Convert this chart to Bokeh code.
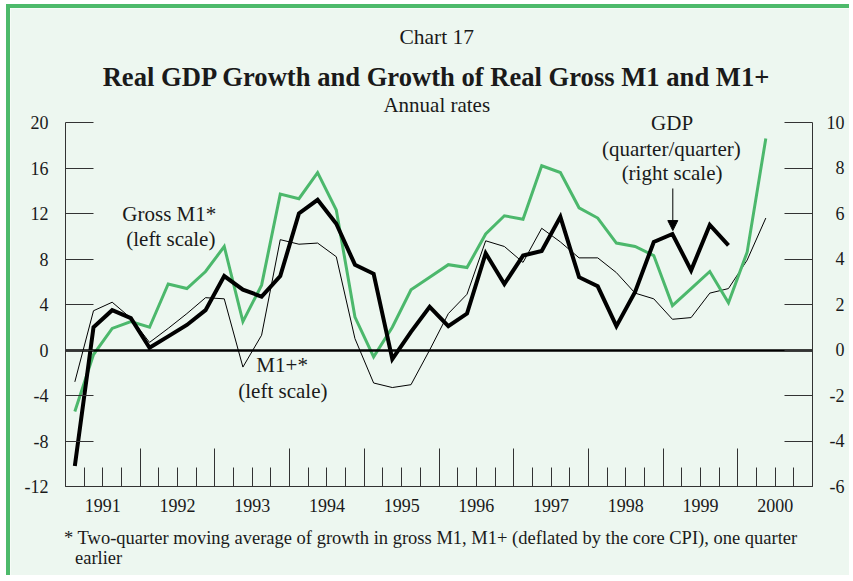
from bokeh.plotting import figure
from bokeh.models import (Range1d, LinearAxis, FixedTicker, Label, Arrow,
                          NormalHead, ColumnDataSource)
from bokeh.embed import file_html
from bokeh.resources import INLINE

# ---------------- data ----------------
years = [1991, 1992, 1993, 1994, 1995, 1996, 1997, 1998, 1999, 2000]
year_labels = ["1991", "1992", "1993", "1994", "1995", "1996", "1997", "1998", "1999", "2000"]
quarters = [f"{y}Q{q}" for y in years for q in (1, 2, 3, 4)]

# Gross M1* (left scale), 1991Q1 .. 2000Q2
gross_m1 = [-5.4, -0.4, 1.9, 2.5, 2.0, 5.8, 5.4, 6.9, 9.1, 2.5,
            5.7, 13.7, 13.3, 15.6, 12.3, 2.9, -0.6, 2.0, 5.3, 6.4,
            7.5, 7.25, 10.2, 11.8, 11.5, 16.2, 15.6, 12.5, 11.6, 9.4,
            9.1, 8.3, 3.9, 5.4, 6.9, 4.15, 8.6, 18.6]
# M1+* (left scale), 1991Q1 .. 2000Q2
m1_plus = [-2.8, 3.45, 4.2, 2.8, 0.67, 1.9, 3.2, 4.6, 4.5, -1.5,
           1.3, 9.7, 9.3, 9.4, 8.2, 1.0, -2.9, -3.3, -3.05, 0.0,
           3.2, 4.9, 9.6, 9.1, 7.7, 10.7, 9.5, 8.1, 8.1, 6.8,
           5.0, 4.5, 2.7, 2.85, 5.0, 5.4, 7.9, 11.6]
# GDP quarter/quarter (right scale), 1991Q1 .. 1999Q4
gdp = [-5.1, 1.0, 1.75, 1.4, 0.1, 0.6, 1.1, 1.75, 3.25, 2.65,
       2.35, 3.25, 6.0, 6.6, 5.55, 3.75, 3.35, -0.4, 0.8, 1.9,
       1.05, 1.6, 4.25, 2.9, 4.15, 4.35, 5.85, 3.2, 2.8, 1.05,
       2.55, 4.75, 5.1, 3.5, 5.5, 4.6]

left_ticks = [-12, -8, -4, 0, 4, 8, 12, 16, 20]
right_ticks = [-6, -4, -2, 0, 2, 4, 6, 8, 10]
LEFT_LO, LEFT_HI = -12, 20
RIGHT_LO, RIGHT_HI = -6, 10
X_LO, X_HI = 1991, 2001

def qpos(label):
    y, q = label.split("Q")
    return int(y) + (int(q) - 0.5) / 4.0

xq = [qpos(q) for q in quarters]

# ---------------- layout (pixels) ----------------
W, H = 843, 571              # canvas
PL, PT = 55, 114             # plot-box offset inside canvas
PW, PH = 747, 364            # plot-box size
ppx = PW / (X_HI - X_LO)
ppy = PH / (LEFT_HI - LEFT_LO)
x_lo = X_LO - PL / ppx
x_hi = X_HI + (W - PL - PW) / ppx
y_hi = LEFT_HI + PT / ppy
y_lo = LEFT_LO - (H - PT - PH) / ppy
r_scale = (RIGHT_HI - RIGHT_LO) / (LEFT_HI - LEFT_LO)

# ---------------- style ----------------
MINT = "#edf7f0"
GREEN = "#4cb86c"
BORDER = "#4dba6b"
INK = "#1a1a1a"
AXIS = "#333333"
FONT = "Liberation Serif"

p = figure(width=W, height=H, x_range=Range1d(x_lo, x_hi), y_range=Range1d(y_lo, y_hi),
           output_backend="svg", toolbar_location=None, title=None,
           min_border=0, min_border_left=0, min_border_right=0,
           min_border_top=0, min_border_bottom=0,
           background_fill_color=MINT, border_fill_color=MINT, outline_line_color=None)
p.extra_y_ranges = {"right": Range1d(y_lo * r_scale, y_hi * r_scale)}
p.xgrid.visible = False
p.ygrid.visible = False
p.styles = {"border-left": f"4px solid {BORDER}", "border-top": f"4px solid {BORDER}",
            "margin-left": "6px", "margin-top": "4px"}

def style_axis(ax):
    ax.axis_line_color = AXIS
    ax.axis_line_width = 1
    ax.major_tick_line_color = AXIS
    ax.minor_tick_line_color = AXIS
    ax.major_tick_out = 0
    ax.minor_tick_out = 0
    ax.major_label_text_font = FONT
    ax.major_label_text_font_size = "18px"
    ax.major_label_text_color = INK

# left axis (plain hyphen minus signs, as in the original)
ax_l = p.left[0]
ax_l.ticker = FixedTicker(ticks=left_ticks)
ax_l.major_label_overrides = {t: str(t) for t in left_ticks}
style_axis(ax_l)
ax_l.fixed_location = X_LO
ax_l.bounds = (LEFT_LO, LEFT_HI)
ax_l.major_tick_in = 28
ax_l.minor_tick_line_color = None
ax_l.major_label_standoff = 17

# right axis: labels padded so that they line up on the right
def pad_right(t):
    s = str(t)
    if len(s) == 1:
        return "\u2007" + s
    if s.startswith("-"):
        return "\u2006" + s
    return s

ax_r = LinearAxis(y_range_name="right", ticker=FixedTicker(ticks=right_ticks))
ax_r.major_label_overrides = {t: pad_right(t) for t in right_ticks}
style_axis(ax_r)
ax_r.fixed_location = X_HI
ax_r.bounds = (RIGHT_LO, RIGHT_HI)
ax_r.major_tick_in = 28
ax_r.minor_tick_line_color = None
ax_r.major_label_standoff = 14
p.add_layout(ax_r, "right")

# bottom axis: year labels centred on each year, short quarter ticks
mid_years = [y + 0.5 for y in years]
quarter_bounds = [y + k / 4.0 for y in years for k in (1, 2, 3)]
ax_b = p.below[0]
ax_b.ticker = FixedTicker(ticks=mid_years, minor_ticks=quarter_bounds)
ax_b.major_label_overrides = {m: lab for m, lab in zip(mid_years, year_labels)}
style_axis(ax_b)
ax_b.fixed_location = LEFT_LO
ax_b.bounds = (X_LO, X_HI)
ax_b.major_tick_line_color = None
ax_b.major_tick_in = 0
ax_b.minor_tick_in = 19
ax_b.major_label_standoff = 12

# bottom axis: tall ticks at year boundaries
ax_t = LinearAxis(ticker=FixedTicker(ticks=[], minor_ticks=years[1:]))
style_axis(ax_t)
ax_t.fixed_location = LEFT_LO
ax_t.bounds = (X_LO, X_HI)
ax_t.minor_tick_in = 38
ax_t.major_tick_line_color = None
p.add_layout(ax_t, "below")

# zero line (as a bare axis line at 0)
ax_0 = LinearAxis(ticker=FixedTicker(ticks=[]))
ax_0.fixed_location = 0
ax_0.bounds = (X_LO, X_HI)
ax_0.axis_line_color = "black"
ax_0.axis_line_width = 2.5
ax_0.major_tick_line_color = None
ax_0.minor_tick_line_color = None
p.add_layout(ax_0, "below")

# series
src_m1 = ColumnDataSource(dict(x=xq[:len(gross_m1)], y=gross_m1))
src_m1p = ColumnDataSource(dict(x=xq[:len(m1_plus)], y=m1_plus))
src_gdp = ColumnDataSource(dict(x=xq[:len(gdp)], y=gdp))

p.line("x", "y", source=src_m1p, line_color="black", line_width=1, line_join="miter")
p.line("x", "y", source=src_m1, line_color=GREEN, line_width=3, line_join="miter")
p.line("x", "y", source=src_gdp, y_range_name="right", line_color="black", line_width=4,
       line_join="miter")

def lab(x, y, text, size="21px", align="center", style="normal", baseline="middle"):
    p.add_layout(Label(x=x, y=y, text=text, text_align=align, text_baseline=baseline,
                       text_font=FONT, text_font_size=size, text_font_style=style,
                       text_color=INK))

# headings
lab(1995.97, 27.5, "Chart 17", size="21.5px")
lab(1995.97, 24.0, "Real GDP Growth and Growth of Real Gross M1 and M1+", size="26.6px", style="bold")
lab(1995.97, 21.5, "Annual rates", size="21px")

# series annotations
lab(1992.39, 12.0, "Gross M1*")
lab(1992.41, 9.8, "(left scale)")
lab(1993.90, -1.3, "M1+*")
lab(1993.91, -3.6, "(left scale)")
lab(1999.12, 20.0, "GDP")
lab(1999.11, 17.7, "(quarter/quarter)")
lab(1999.12, 15.6, "(right scale)")

p.add_layout(Arrow(end=NormalHead(size=10, fill_color="black", line_color="black"),
                   x_start=1999.13, y_start=14.2, x_end=1999.13, y_end=10.5,
                   line_color="black", line_width=1))

# footnote
lab(1990.98, -16.5, "* Two-quarter moving average of growth in gross M1, M1+ (deflated by the core CPI), one quarter",
    size="18.5px", align="left")
lab(1991.127, -18.25, "earlier", size="18.5px", align="left")

open("out.html", "w").write(file_html(p, INLINE))
